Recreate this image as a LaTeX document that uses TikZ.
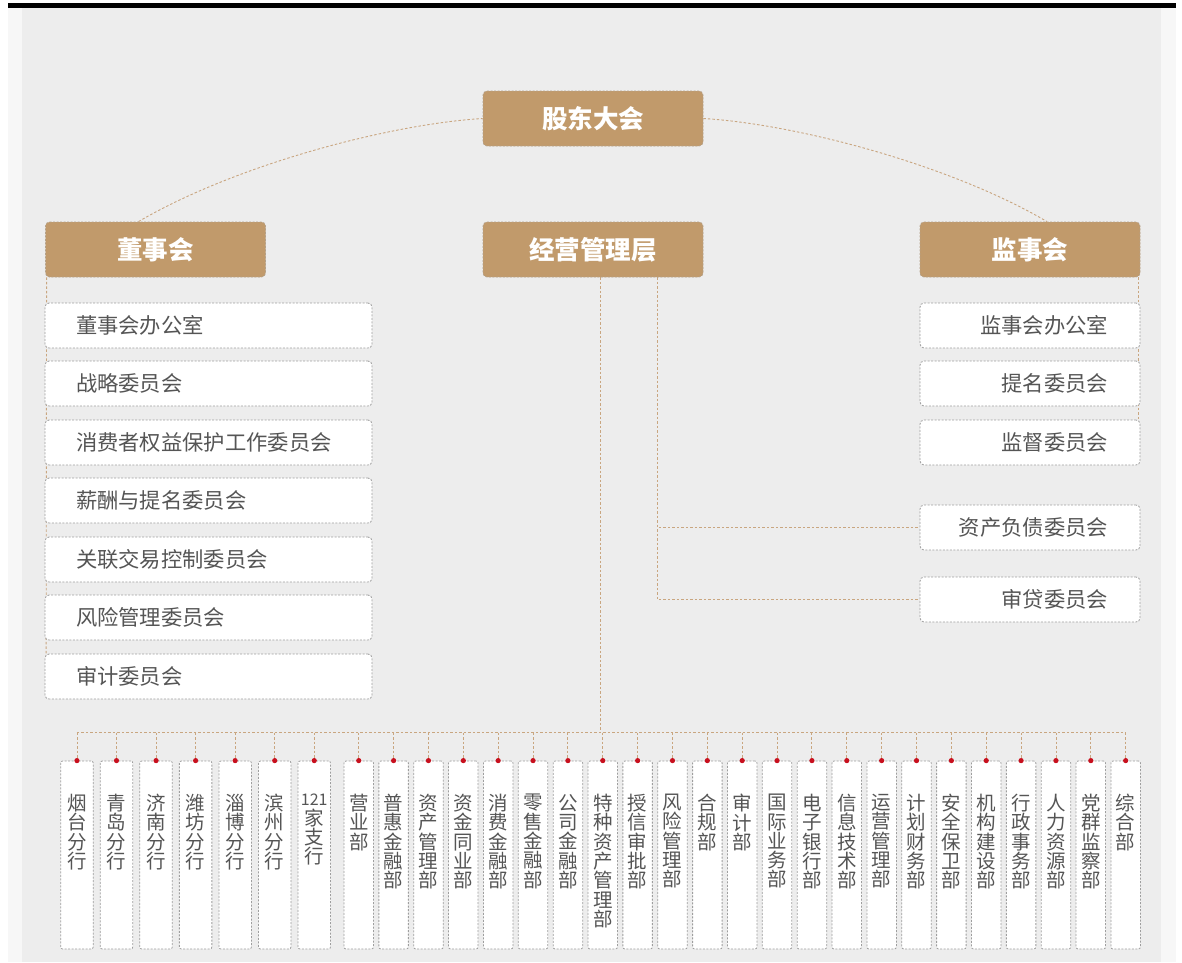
\documentclass[tikz,border=0pt]{standalone}
\usepackage{fontspec}
\setmainfont{Noto Sans CJK SC}
\usetikzlibrary{backgrounds}
\definecolor{hdrtan}{HTML}{C19A6B}
\definecolor{hdrborder}{HTML}{B3A088}
\definecolor{panelbg}{HTML}{EDEDED}
\definecolor{outerbg}{HTML}{F7F7F7}
\definecolor{boxborder}{HTML}{9E9E9E}
\definecolor{conncol}{HTML}{C9A680}
\definecolor{txtgray}{HTML}{555555}
\definecolor{dotred}{HTML}{C8101E}
\begin{document}
\begin{tikzpicture}[x=1pt,y=-1pt,
  hdr/.style={rectangle, rounded corners=4pt, fill=hdrtan, draw=hdrborder, line width=0.8pt,
    dash pattern=on 2pt off 1.5pt, minimum width=220pt, minimum height=55pt, inner sep=0pt,
    text=white, font=\fontsize{25.5}{28}\selectfont\bfseries},
  lbox/.style={rectangle, rounded corners=4pt, fill=white, draw=boxborder, line width=0.8pt,
    dash pattern=on 2pt off 1.5pt, minimum height=45pt, inner ysep=0pt, inner xsep=31pt,
    text width=265pt, align=left, text=txtgray, font=\fontsize{21.3}{24}\selectfont},
  rbox/.style={rectangle, rounded corners=4pt, fill=white, draw=boxborder, line width=0.8pt,
    dash pattern=on 2pt off 1.5pt, minimum height=45pt, inner ysep=0pt, inner xsep=32pt,
    text width=156pt, align=right, text=txtgray, font=\fontsize{21.3}{24}\selectfont},
  colbox/.style={rectangle, rounded corners=2pt, fill=white, draw=boxborder, line width=0.8pt,
    dash pattern=on 2pt off 1.5pt, minimum height=188pt, inner sep=0pt},
  coltext/.style={anchor=north, inner sep=0pt, align=center, text=txtgray,
    font=\fontsize{19.5}{19.3}\selectfont},
  conn/.style={draw=conncol, line width=0.9pt, dash pattern=on 2.5pt off 2pt},
]
\useasboundingbox (0,0) rectangle (1182,962);

% headers
\node[hdr] (gd) at (593,118.5) {股东大会};
\node[hdr] (dsh) at (155.5,249.5) {董事会};
\node[hdr] (jy) at (593,249.5) {经营管理层};
\node[hdr] (jsh) at (1030,249.5) {监事会};

% left boxes
\node[lbox] (l1) at (208.5,325.5) {董事会办公室};
\node[lbox] (l2) at (208.5,383.5) {战略委员会};
\node[lbox] (l3) at (208.5,442.5) {消费者权益保护工作委员会};
\node[lbox] (l4) at (208.5,500.5) {薪酬与提名委员会};
\node[lbox] (l5) at (208.5,559.5) {关联交易控制委员会};
\node[lbox] (l6) at (208.5,617.5) {风险管理委员会};
\node[lbox] (l7) at (208.5,676.5) {审计委员会};

% right boxes
\node[rbox] (r1) at (1030,325.5) {监事会办公室};
\node[rbox] (r2) at (1030,383.5) {提名委员会};
\node[rbox] (r3) at (1030,442.5) {监督委员会};
\node[rbox] (r4) at (1030,527.5) {资产负债委员会};
\node[rbox] (r5) at (1030,599.5) {审贷委员会};

% branch columns
\foreach \t [count=\i] in {{烟\\台\\分\\行},{青\\岛\\分\\行},{济\\南\\分\\行},{潍\\坊\\分\\行},{淄\\博\\分\\行},{滨\\州\\分\\行},{{\fontsize{16}{19.3}\selectfont 121}\\家\\支\\行}}{
  \pgfmathsetmacro\cx{76.95+39.55*(\i-1)}
  \node[colbox, minimum width=32.5pt] (c\i) at (\cx,855) {};
  \node[coltext] (t\i) at (\cx,794) {\t};
}
\foreach \t [count=\j from 8] in {{营\\业\\部},{普\\惠\\金\\融\\部},{资\\产\\管\\理\\部},{资\\金\\同\\业\\部},{消\\费\\金\\融\\部},{零\\售\\金\\融\\部},{公\\司\\金\\融\\部},{特\\种\\资\\产\\管\\理\\部},{授\\信\\审\\批\\部},{风\\险\\管\\理\\部},{合\\规\\部},{审\\计\\部},{国\\际\\业\\务\\部},{电\\子\\银\\行\\部},{信\\息\\技\\术\\部},{运\\营\\管\\理\\部},{计\\划\\财\\务\\部},{安\\全\\保\\卫\\部},{机\\构\\建\\设\\部},{行\\政\\事\\务\\部},{人\\力\\资\\源\\部},{党\\群\\监\\察\\部},{综\\合\\部}}{
  \pgfmathsetmacro\cx{358.75+34.86*(\j-8)}
  \node[colbox, minimum width=29.5pt] (c\j) at (\cx,855) {};
  \node[coltext] (t\j) at (\cx,794) {\t};
}

\coordinate (busmid) at (600,732.5);

\begin{pgfonlayer}{background}
  \fill[white] (0,0) rectangle (1182,962);
  \fill[outerbg] (8,8) rectangle (1176,962);
  \fill[panelbg] (22,8) rectangle (1161,962);
  \fill[black] (8,3) rectangle (1176,8);
  % arcs
  \draw[conn] ([xshift=-17pt]dsh.north) .. controls (235,165) and (390,124) .. (gd.west);
  \draw[conn] (gd.east) .. controls (796,124) and (951,165) .. ([xshift=17pt]jsh.north);
  % spines
  \draw[conn] ([xshift=1.5pt]dsh.south west) -- ([xshift=1.5pt]l7.west);
  \draw[conn] ([xshift=-1.5pt]jsh.south east) -- ([xshift=-1.5pt]r3.east);
  % management
  \draw[conn] ([xshift=64pt]jy.south) |- (r4.west);
  \draw[conn] ([xshift=64pt]jy.south) |- (r5.west);
  \draw[conn] ([xshift=7pt]jy.south) -- (busmid);
  \draw[conn] (c1.north |- busmid) -- (c30.north |- busmid);
  \foreach \i in {1,...,30}{
    \draw[conn] (c\i.north |- busmid) -- (c\i.north);
  }
\end{pgfonlayer}
\foreach \i in {1,...,30}{
  \fill[dotred] (c\i.north) circle (2.6pt);
}
\end{tikzpicture}
\end{document}
